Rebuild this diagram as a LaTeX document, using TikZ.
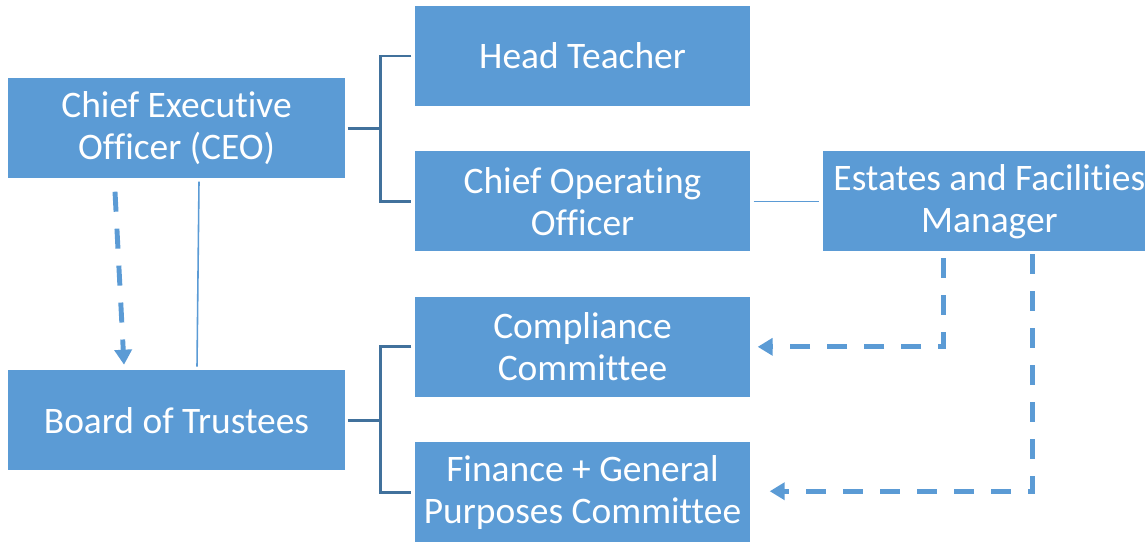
\documentclass[tikz,border=0pt]{standalone}
\usepackage{fontspec}
\setmainfont[RawFeature={-liga;-clig;-calt;-dlig}]{Carlito}
\usetikzlibrary{positioning,arrows.meta}
\definecolor{boxblu}{HTML}{5B9BD5}
\definecolor{lineablu}{HTML}{41719C}

\begin{document}
\begin{tikzpicture}[node distance={8.8mm}, thick,
    main/.style = {fill=boxblu, text=white, minimum width=6.7cm, minimum height=2cm, align=center, inner sep=0pt, font=\fontsize{21.3}{24}\selectfont},
    conn/.style = {lineablu, line width=1.7pt},
    sottile/.style = {boxblu, line width=0.9pt},
    tratt/.style = {boxblu, line width=2.8pt, dash pattern=on 0.4cm off 0.34cm, -{Triangle[length=0.3cm,width=0.34cm]}}]
    \useasboundingbox (0,0) rectangle (22.9,-10.96);
    % Disegna i nodi
    \node[main, minimum width=6.74cm] (ceo) at (3.53,-2.56) {Chief Executive\\Officer (CEO)};
    \node[main, minimum width=6.74cm] (board) [below=3.82cm of ceo] {Board of Trustees};
    \node[main] (head) at (11.65,-1.12) {Head Teacher};
    \node[main] (coo) [below=of head] {Chief Operating\\Officer};
    \node[main] (comp) [below=of coo] {Compliance\\Committee};
    \node[main] (fin) [below=of comp] {Finance + General\\Purposes Committee};
    \node[main, minimum width=6.64cm] (est) [right=1.44cm of coo] {Estates and Facilities\\Manager};

    % Disegna i collegamenti
    \draw[conn] ([xshift=0.04cm]ceo.east) -- ++(0.66,0) coordinate (j1);
    \draw[conn] ([xshift=-0.06cm]head.west) -| (j1) |- ([xshift=-0.06cm]coo.west);
    \draw[conn] ([xshift=0.04cm]board.east) -- ++(0.66,0) coordinate (j2);
    \draw[conn] ([xshift=-0.06cm]comp.west) -| (j2) |- ([xshift=-0.06cm]fin.west);
    \draw[sottile] ([xshift=0.06cm]coo.east) -- ([xshift=-0.08cm]est.west);
    \draw[sottile] ([xshift=0.45cm,yshift=-0.06cm]ceo.south) -- ([xshift=0.41cm,yshift=0.06cm]board.north);

    % Frecce tratteggiate
    \draw[tratt] ([xshift=-1.23cm,yshift=-0.26cm]ceo.south) -- ([xshift=-1.05cm,yshift=0.1cm]board.north);
    \draw[tratt] ([xshift=-0.92cm,yshift=-0.12cm]est.south) |- ([xshift=0.14cm]comp.east);
    \draw[tratt] ([xshift=0.86cm,yshift=-0.04cm]est.south) |- ([xshift=0.38cm,yshift=0.02cm]fin.east);
\end{tikzpicture}
\end{document}
